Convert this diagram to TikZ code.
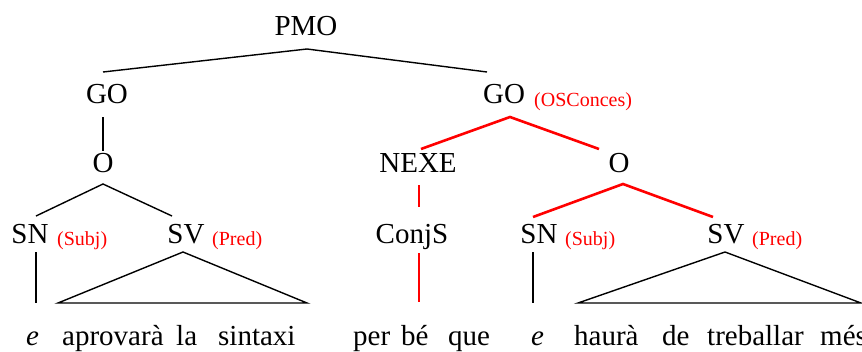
\documentclass[tikz,border=0pt]{standalone}
\usepackage{fontspec}
\setmainfont{Liberation Serif}
\begin{document}
\begin{tikzpicture}[x=1pt,y=-1pt,
  lbl/.style={inner sep=0pt, anchor=base, font=\fontsize{29}{34}\selectfont},
  fn/.style={inner sep=0pt, anchor=base west, text=red, font=\fontsize{20}{24}\selectfont},
  word/.style={inner sep=0pt, anchor=base west, font=\fontsize{29}{34}\selectfont},
  blk/.style={line width=1.4pt, black},
  hl/.style={line width=2.6pt, red}]
\useasboundingbox (0,0) rectangle (862,351);

% category labels
\node[lbl] (pmo)   at (306,35)  {PMO};
\node[lbl] (go1)   at (107,103) {GO};
\node[lbl] (o1)    at (103,172) {O};
\node[lbl] (sn1)   at (30,243)  {SN};
\node[lbl] (sv1)   at (186,243) {SV};
\node[lbl] (go2)   at (504,103) {GO};
\node[lbl] (nexe)  at (418,172) {NEXE};
\node[lbl] (o2)    at (619,172) {O};
\node[lbl] (conjs) at (412,243) {ConjS};
\node[lbl] (sn2)   at (539,243) {SN};
\node[lbl] (sv2)   at (726,243) {SV};

% functions
\node[fn] (f1) at (57,245)  {(Subj)};
\node[fn] (f2) at (212,245) {(Pred)};
\node[fn] (f3) at (534,106) {(OSConces)};
\node[fn] (f4) at (565,245) {(Subj)};
\node[fn] (f5) at (752,245) {(Pred)};

% sentence
\node[word] (w1)  at (26,345)  {\itshape e};
\node[word] (w2)  at (62,345)  {aprovarà};
\node[word] (w3)  at (176,345) {la};
\node[word] (w4)  at (218,345) {sintaxi};
\node[word] (w5)  at (353,345) {per};
\node[word] (w6)  at (401,345) {bé};
\node[word] (w7)  at (448,345) {que};
\node[word] (w8)  at (531,345) {\itshape e};
\node[word] (w9)  at (574,345) {haurà};
\node[word] (w10) at (662,345) {de};
\node[word] (w11) at (707,345) {treballar};
\node[word] (w12) at (820,345) {més};

% branch points
\coordinate (pmo-b)  at (307,49);
\coordinate (go1-t)  at (103,72);
\coordinate (go2-t)  at (487,72);
\coordinate (go1-b)  at (103,117);
\coordinate (o1-t)   at (103,151);
\coordinate (o1-b)   at (103,184);
\coordinate (sn1-t)  at (36,216);
\coordinate (sv1-t)  at (172,216);
\coordinate (sn1-b)  at (36,252);
\coordinate (w1-t)   at (36,303);
\coordinate (sv1-b)  at (183,252);
\coordinate (t1-l)   at (58,303);
\coordinate (t1-r)   at (307,303);
\coordinate (go2-b)  at (510,117);
\coordinate (nexe-t) at (421,149);
\coordinate (o2-t)   at (599,149);
\coordinate (nexe-b) at (419,185);
\coordinate (conj-t) at (419,207);
\coordinate (conj-b) at (419,253);
\coordinate (w5-t)   at (419,302);
\coordinate (o2-b)   at (623,184);
\coordinate (sn2-t)  at (533,217);
\coordinate (sv2-t)  at (713,217);
\coordinate (sn2-b)  at (533,252);
\coordinate (w8-t)   at (533,303);
\coordinate (sv2-b)  at (725,252);
\coordinate (t2-l)   at (578,303);
\coordinate (t2-r)   at (861,303);

% black branches
\draw[blk] (go1-t) -- (pmo-b) -- (go2-t);
\draw[blk] (go1-b) -- (o1-t);
\draw[blk] (sn1-t) -- (o1-b) -- (sv1-t);
\draw[blk] (sn1-b) -- (w1-t);
\draw[blk] (sv1-b) -- (t1-l) -- (t1-r) -- cycle;
\draw[blk] (sn2-b) -- (w8-t);
\draw[blk] (sv2-b) -- (t2-l) -- (t2-r) -- cycle;

% highlighted branches
\draw[hl] (nexe-t) -- (go2-b) -- (o2-t);
\draw[hl] (nexe-b) -- (conj-t);
\draw[hl] (conj-b) -- (w5-t);
\draw[hl] (sn2-t) -- (o2-b) -- (sv2-t);
\end{tikzpicture}
\end{document}
